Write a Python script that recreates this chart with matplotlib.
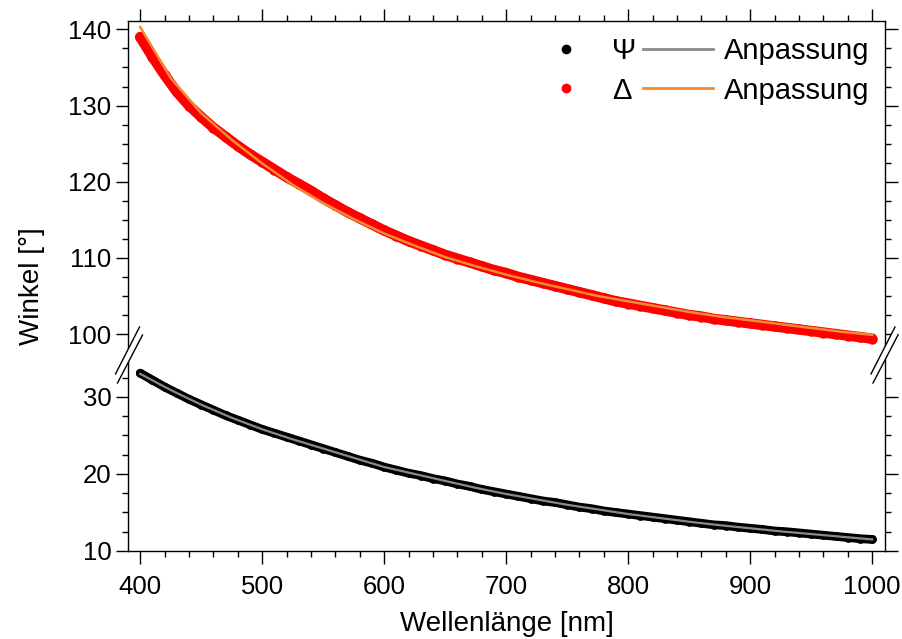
import numpy as np
import matplotlib
matplotlib.use("Agg")
import matplotlib.pyplot as plt
from matplotlib.lines import Line2D
from matplotlib.patches import Polygon
from matplotlib.ticker import MultipleLocator, FixedLocator

plt.rcParams['font.family'] = ['Liberation Sans', 'DejaVu Sans']

# measured data, 10 nm steps
wl = list(range(400, 1001, 10))
psi = [33.1, 32.2, 31.3, 30.5, 29.7, 29.0, 28.3, 27.6, 27.0, 26.4,
       25.8, 25.3, 24.8, 24.3, 23.8, 23.3, 22.8, 22.3, 21.8, 21.4,
       20.9, 20.5, 20.1, 19.8, 19.4, 19.1, 18.7, 18.4, 18.0, 17.7,
       17.4, 17.1, 16.8, 16.5, 16.3, 16.0, 15.7, 15.5, 15.2, 15.0,
       14.8, 14.6, 14.4, 14.2, 14.0, 13.8, 13.6, 13.4, 13.3, 13.1,
       12.95, 12.8, 12.6, 12.5, 12.35, 12.2, 12.05, 11.9, 11.75, 11.6, 11.5]
delta = [139.0, 136.4, 134.0, 131.8, 130.0, 128.5, 127.1, 125.9, 124.7, 123.6,
         122.6, 121.6, 120.6, 119.7, 118.8, 117.8, 116.9, 116.0, 115.2, 114.4,
         113.6, 112.9, 112.2, 111.6, 111.0, 110.4, 109.9, 109.4, 108.9, 108.4,
         108.0, 107.5, 107.1, 106.7, 106.3, 105.9, 105.5, 105.1, 104.7, 104.3,
         104.0, 103.7, 103.4, 103.1, 102.8, 102.5, 102.3, 102.0, 101.8, 101.6,
         101.4, 101.2, 101.0, 100.8, 100.6, 100.4, 100.2, 100.0, 99.8, 99.6, 99.4]

# fit curves, 25 nm steps
wl_fit = list(range(400, 1001, 25))
psi_fit = [33.0, 30.9, 29.0, 27.3, 25.8, 24.5, 23.3, 22.1, 20.9, 20.0,
           19.1, 18.2, 17.4, 16.7, 16.0, 15.4, 14.8, 14.3, 13.8, 13.35,
           12.95, 12.55, 12.2, 11.85, 11.5]
delta_fit = [140.3, 133.6, 129.0, 125.5, 122.4, 119.6, 117.2, 115.1, 113.2, 111.6,
             110.1, 108.9, 107.8, 106.8, 105.9, 105.0, 104.3, 103.6, 102.9, 102.3,
             101.8, 101.3, 100.8, 100.3, 99.9]

W, H = 903, 639
fig = plt.figure(figsize=(W / 100, H / 100), dpi=100)

left, right = 128 / W, 885 / W
top, brk, bottom = 1 - 21 / H, 1 - 355 / H, 1 - 551 / H
ax_up = fig.add_axes([left, brk, right - left, top - brk])
ax_lo = fig.add_axes([left, bottom, right - left, brk - bottom])

red = '#ff0000'
orange = '#f28a30'
gray = '#8a8a8a'

ax_up.plot(wl, delta, 'o-', color=red, ms=7.5, mew=0, lw=7.5,
           solid_capstyle='round', zorder=2)
ax_up.plot(wl_fit, delta_fit, '-', color=orange, lw=1.8, zorder=3)
ax_lo.plot(wl, psi, 'o-', color='black', ms=6.3, mew=0, lw=6.3,
           solid_capstyle='round', zorder=2)
ax_lo.plot(wl_fit, psi_fit, '-', color=gray, lw=1.6, zorder=3)

for ax in (ax_up, ax_lo):
    ax.set_xlim(390, 1010.5)
    ax.xaxis.set_major_locator(MultipleLocator(100))
    ax.xaxis.set_minor_locator(MultipleLocator(20))
    ax.tick_params(which='both', direction='out', width=1, labelsize=18.5,
                   left=True, right=True)
    ax.tick_params(which='major', length=9)
    ax.tick_params(which='minor', length=4.5)
    for s in ax.spines.values():
        s.set_linewidth(1)

ax_up.set_ylim(97.25, 141.1)
ax_up.yaxis.set_major_locator(FixedLocator([100, 110, 120, 130, 140]))
ax_up.yaxis.set_minor_locator(FixedLocator(np.arange(102.5, 141, 2.5)))
ax_up.spines['bottom'].set_visible(False)
ax_up.tick_params(axis='x', which='both', bottom=False, top=True,
                  labelbottom=False, labeltop=False)

ax_lo.set_ylim(10, 35.45)
ax_lo.yaxis.set_major_locator(FixedLocator([10, 20, 30]))
ax_lo.yaxis.set_minor_locator(FixedLocator(np.arange(12.5, 33, 2.5)))
ax_lo.spines['top'].set_visible(False)
ax_lo.tick_params(axis='x', which='both', bottom=True, top=False, pad=8)
ax_lo.tick_params(axis='y', pad=3)
ax_up.tick_params(axis='y', pad=3)

ax_lo.set_xlabel('Wellenlänge [nm]', fontsize=20, labelpad=9)
fig.text(32 / W, 1 - 286 / H, 'Winkel [°]', rotation=90, fontsize=20,
         ha='center', va='center')

# axis break marks
def fx(px):
    return px / W

def fy(py):
    return 1 - py / H

for xc in (128.5, 884):
    a1 = (xc - 13, 374); a2 = (xc + 11, 327)
    b1 = (xc - 11, 383); b2 = (xc + 14, 335)
    poly = Polygon([(fx(a1[0]), fy(a1[1])), (fx(a2[0]), fy(a2[1])),
                    (fx(b2[0]), fy(b2[1])), (fx(b1[0]), fy(b1[1]))],
                   closed=True, facecolor='white', edgecolor='none',
                   transform=fig.transFigure, zorder=10)
    fig.patches.append(poly)
    for p, q in ((a1, a2), (b1, b2)):
        fig.lines.append(Line2D([fx(p[0]), fx(q[0])], [fy(p[1]), fy(q[1])],
                                color='black', lw=1, transform=fig.transFigure,
                                zorder=11))

handles = [Line2D([], [], marker='o', ls='none', color='black', ms=6),
           Line2D([], [], marker='o', ls='none', color=red, ms=6),
           Line2D([], [], color=gray, lw=2),
           Line2D([], [], color=orange, lw=2)]
labels = ['Ψ', 'Δ', 'Anpassung', 'Anpassung']
ax_up.legend(handles, labels, ncol=2, loc='upper right', frameon=False,
             fontsize=21, handlelength=2.4, handletextpad=0.35,
             columnspacing=0.25, labelspacing=0.4,
             bbox_to_anchor=(1.0, 1.0), borderaxespad=0.15)

fig.savefig('out.png', dpi=100)
